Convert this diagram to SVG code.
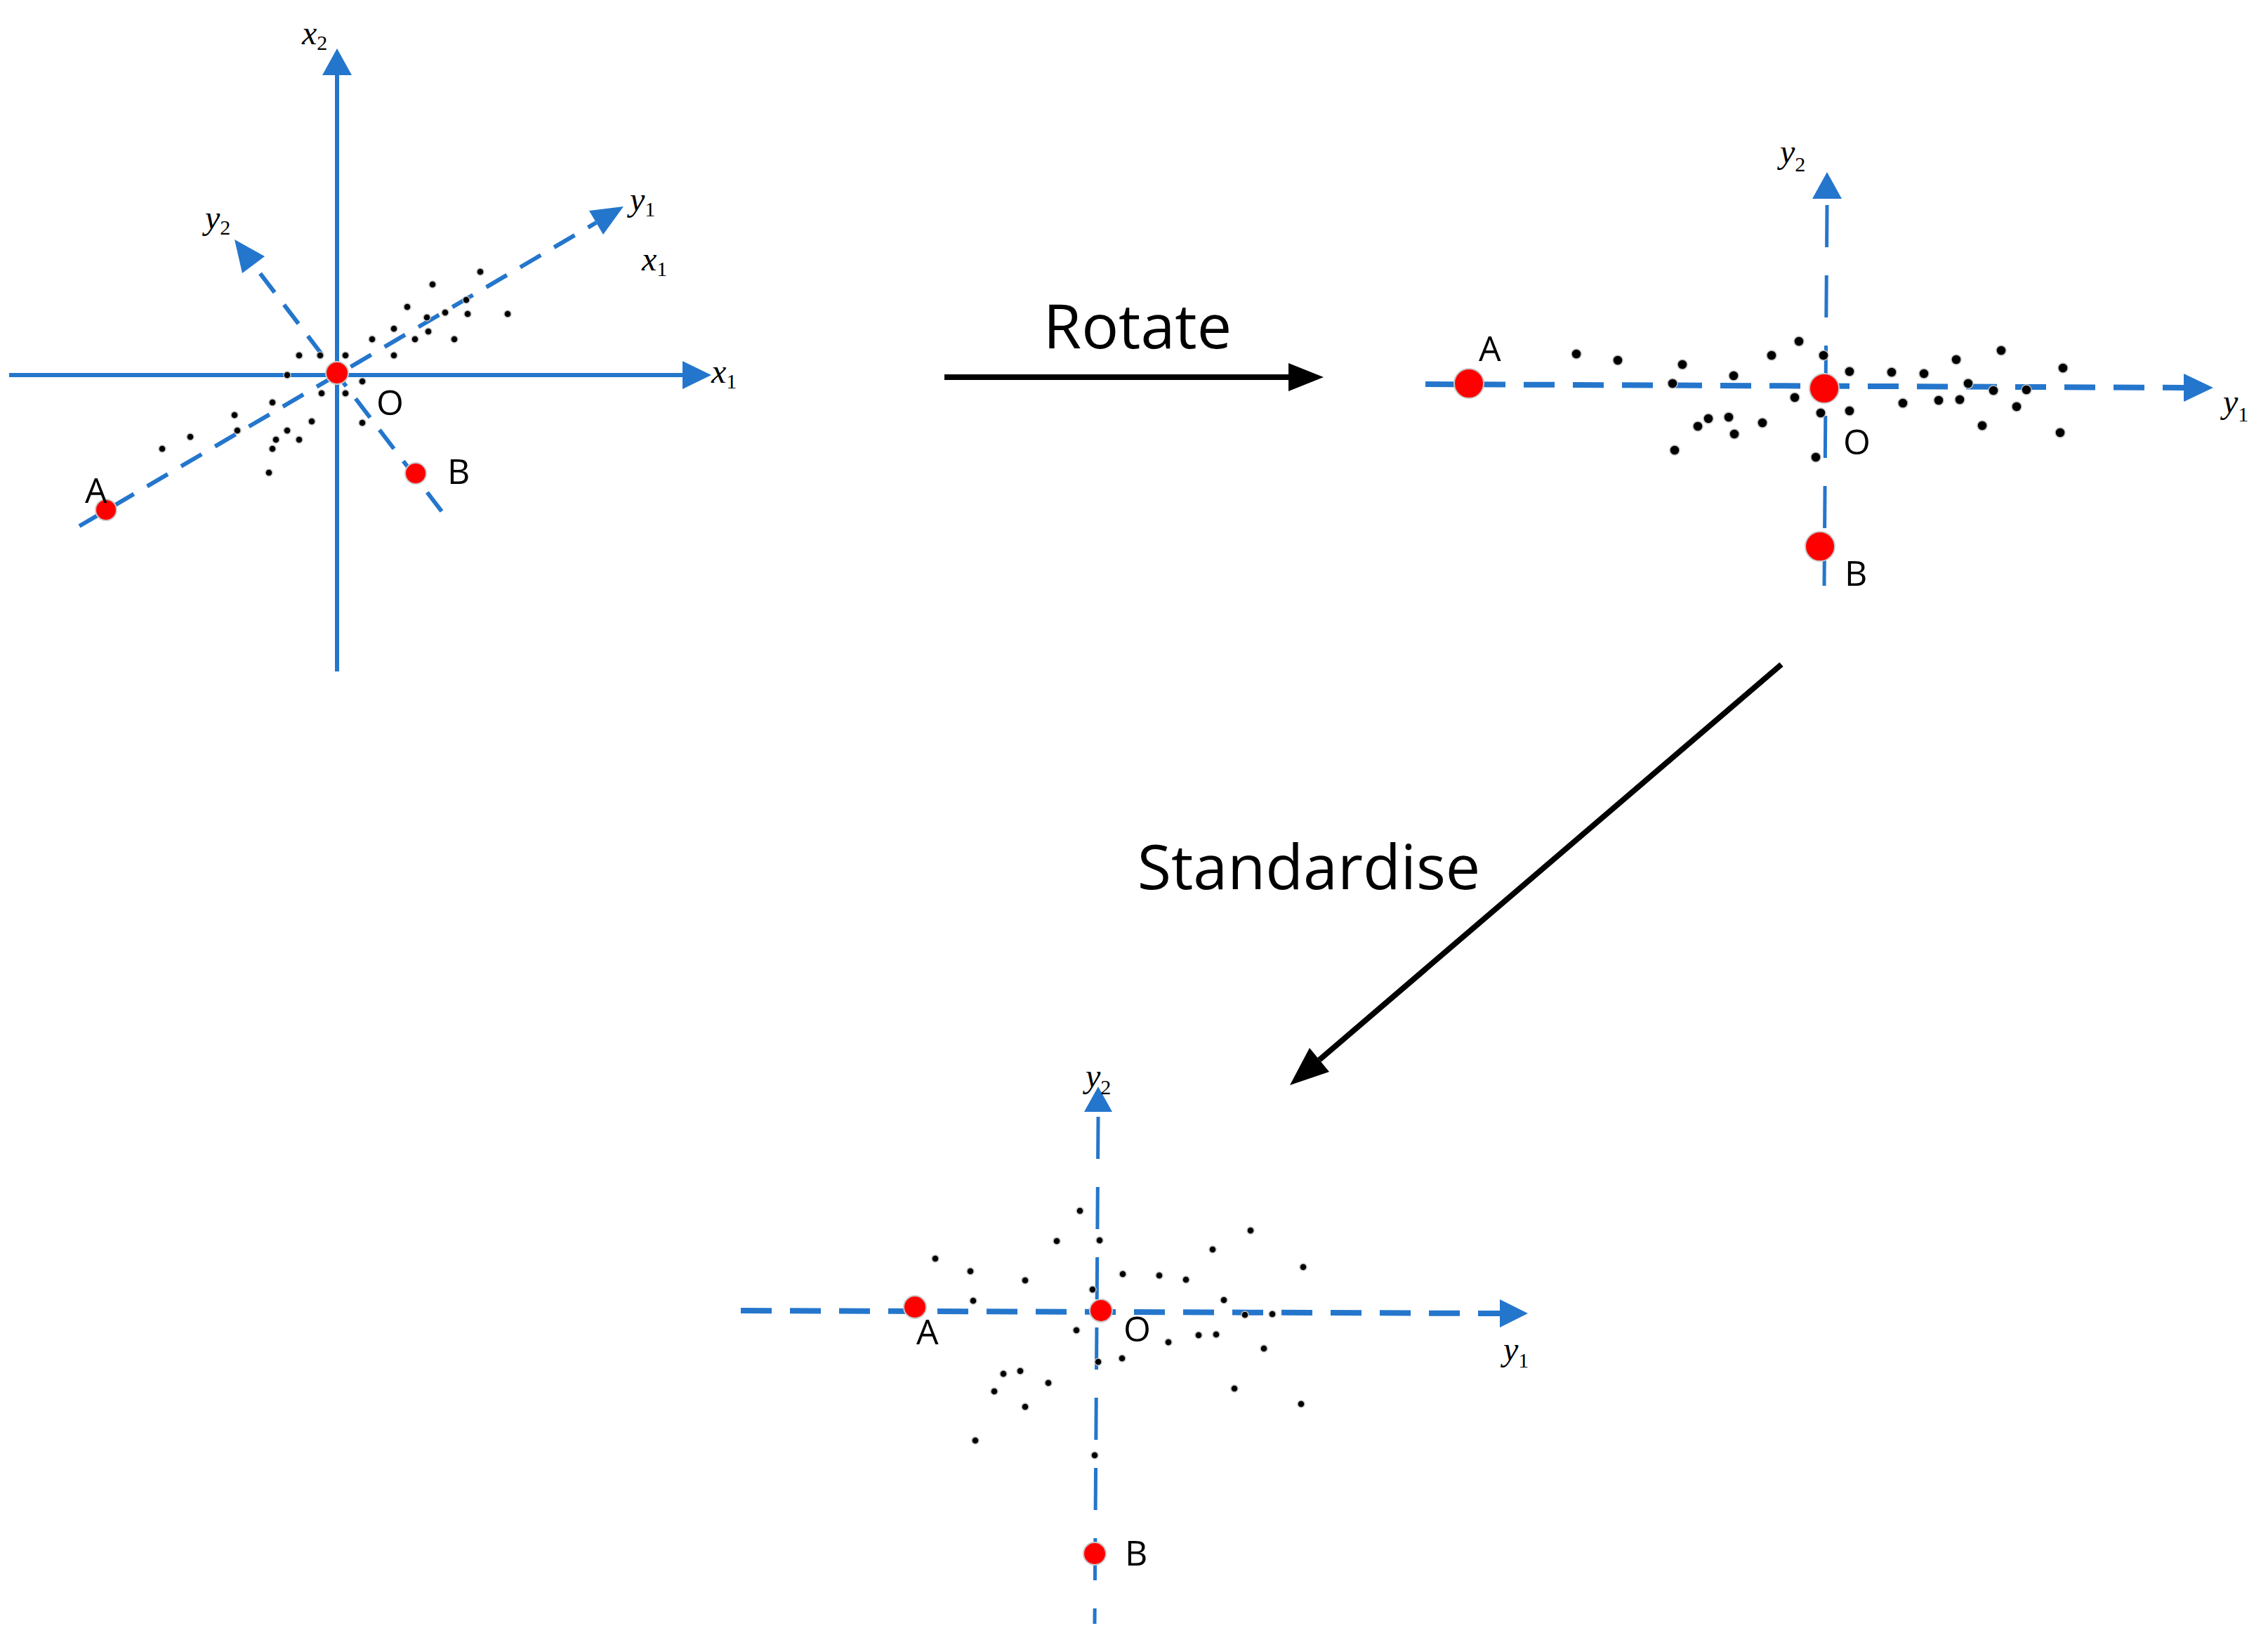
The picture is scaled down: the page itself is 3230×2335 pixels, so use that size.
<svg xmlns="http://www.w3.org/2000/svg" width="3230" height="2335" viewBox="0 0 3230 2335">
<style>
.ax{stroke:#2476cc;stroke-width:6;fill:none}
.dsh{stroke:#2476cc;stroke-width:6;fill:none;stroke-dasharray:34 22}
.dsh2{stroke:#2476cc;stroke-width:8;fill:none;stroke-dasharray:44 26}
.dshv{stroke:#2476cc;stroke-width:5;fill:none;stroke-dasharray:60 40}
.hd{fill:#2476cc}
.bk{stroke:#000;stroke-width:8;fill:none}
.bh{fill:#000}
.red{fill:#ff0000;stroke:#c8c8c8;stroke-width:2}
.dot{fill:#000;stroke:#c0c0c0;stroke-width:1.5}
.lbl{font-family:"Open Sans","Liberation Sans",sans-serif;font-size:50px;fill:#000}
.var{font-family:"Liberation Serif",serif;font-style:italic;font-size:48px;fill:#000}
.sub{font-style:normal;font-size:30px}
.big{font-family:"Open Sans","Liberation Sans",sans-serif;font-size:88px;fill:#000}
</style>
<rect width="3230" height="2335" fill="#fff"/>
<g id="connectors">
<line class="bk" x1="1345" y1="537" x2="1840" y2="537"/>
<polygon class="bh" points="1885,537 1835,517 1835,557"/>
<line class="bk" x1="2537" y1="946" x2="1879" y2="1509"/>
<polygon class="bh" points="1837,1545 1893,1526 1865,1492"/>
</g>
<g id="panel1">
<line class="ax" x1="480" y1="956" x2="480" y2="100"/>
<polygon class="hd" points="480,69 459,107 501,107"/>
<line class="ax" x1="13" y1="534" x2="980" y2="534"/>
<polygon class="hd" points="1013,534 972,514 972,554"/>
<line class="dsh" x1="113" y1="749" x2="849" y2="317"/>
<polygon class="hd" points="888,294 859,334 839,300"/>
<line class="dsh" x1="629" y1="728" x2="361" y2="377"/>
<polygon class="hd" points="334,341 377,365 345,389"/>
<g>
<circle class="dot" cx="684" cy="387" r="5"/><circle class="dot" cx="616" cy="405" r="5"/><circle class="dot" cx="580" cy="437" r="5"/><circle class="dot" cx="664" cy="427" r="5"/><circle class="dot" cx="608" cy="452" r="5"/><circle class="dot" cx="634" cy="445" r="5"/><circle class="dot" cx="666" cy="447" r="5"/><circle class="dot" cx="723" cy="447" r="5"/><circle class="dot" cx="561" cy="468" r="5"/><circle class="dot" cx="530" cy="483" r="5"/><circle class="dot" cx="591" cy="483" r="5"/><circle class="dot" cx="610" cy="472" r="5"/><circle class="dot" cx="647" cy="483" r="5"/><circle class="dot" cx="561" cy="506" r="5"/><circle class="dot" cx="426" cy="506" r="5"/><circle class="dot" cx="456" cy="506" r="5"/><circle class="dot" cx="492" cy="506" r="5"/><circle class="dot" cx="409" cy="534" r="5"/><circle class="dot" cx="516" cy="543" r="5"/><circle class="dot" cx="458" cy="560" r="5"/><circle class="dot" cx="492" cy="560" r="5"/><circle class="dot" cx="388" cy="573" r="5"/><circle class="dot" cx="334" cy="591" r="5"/><circle class="dot" cx="338" cy="613" r="5"/><circle class="dot" cx="271" cy="622" r="5"/><circle class="dot" cx="231" cy="639" r="5"/><circle class="dot" cx="444" cy="600" r="5"/><circle class="dot" cx="409" cy="613" r="5"/><circle class="dot" cx="393" cy="626" r="5"/><circle class="dot" cx="426" cy="626" r="5"/><circle class="dot" cx="388" cy="639" r="5"/><circle class="dot" cx="516" cy="602" r="5"/><circle class="dot" cx="383" cy="673" r="5"/>
</g>
<circle class="red" cx="480" cy="531" r="16"/>
<circle class="red" cx="151" cy="726" r="15"/>
<circle class="red" cx="592" cy="674" r="15"/>
<text class="lbl" x="121" y="716">A</text>
<text class="lbl" x="637" y="689">B</text>
<text class="lbl" x="536" y="591">O</text>
<text class="var" x="430" y="63">x<tspan class="sub" dy="8">2</tspan></text>
<text class="var" x="897" y="300">y<tspan class="sub" dy="8">1</tspan></text>
<text class="var" x="292" y="326">y<tspan class="sub" dy="8">2</tspan></text>
<text class="var" x="914" y="385">x<tspan class="sub" dy="8">1</tspan></text>
<text class="var" x="1013" y="545">x<tspan class="sub" dy="8">1</tspan></text>
</g>
<g id="label-rotate"><text class="big" x="1620" y="496" text-anchor="middle">Rotate</text></g>
<g id="label-standardise"><text class="big" x="1864" y="1266" text-anchor="middle">Standardise</text></g>
<g id="panel2">
<line class="dsh2" x1="2030" y1="547" x2="3110" y2="552"/>
<polygon class="hd" points="3152,552 3110,532 3110,572"/>
<line class="dshv" x1="2602" y1="292" x2="2598" y2="834"/>
<polygon class="hd" points="2602,245 2581,283 2623,283"/>
<g>
<circle class="dot" cx="2245" cy="504" r="7"/><circle class="dot" cx="2304" cy="513" r="7"/><circle class="dot" cx="2396" cy="519" r="7"/><circle class="dot" cx="2382" cy="546" r="7"/><circle class="dot" cx="2469" cy="535" r="7"/><circle class="dot" cx="2523" cy="506" r="7"/><circle class="dot" cx="2562" cy="486" r="7"/><circle class="dot" cx="2597" cy="506" r="7"/><circle class="dot" cx="2634" cy="529" r="7"/><circle class="dot" cx="2694" cy="530" r="7"/><circle class="dot" cx="2740" cy="532" r="7"/><circle class="dot" cx="2786" cy="512" r="7"/><circle class="dot" cx="2850" cy="499" r="7"/><circle class="dot" cx="2938" cy="524" r="7"/><circle class="dot" cx="2803" cy="546" r="7"/><circle class="dot" cx="2839" cy="556" r="7"/><circle class="dot" cx="2886" cy="555" r="7"/><circle class="dot" cx="2872" cy="579" r="7"/><circle class="dot" cx="2791" cy="569" r="7"/><circle class="dot" cx="2761" cy="570" r="7"/><circle class="dot" cx="2710" cy="574" r="7"/><circle class="dot" cx="2634" cy="585" r="7"/><circle class="dot" cx="2593" cy="588" r="7"/><circle class="dot" cx="2556" cy="566" r="7"/><circle class="dot" cx="2510" cy="602" r="7"/><circle class="dot" cx="2470" cy="618" r="7"/><circle class="dot" cx="2462" cy="594" r="7"/><circle class="dot" cx="2433" cy="596" r="7"/><circle class="dot" cx="2418" cy="607" r="7"/><circle class="dot" cx="2385" cy="641" r="7"/><circle class="dot" cx="2586" cy="651" r="7"/><circle class="dot" cx="2823" cy="606" r="7"/><circle class="dot" cx="2934" cy="616" r="7"/>
</g>
<circle class="red" cx="2598" cy="553" r="21"/>
<circle class="red" cx="2092" cy="546" r="21"/>
<circle class="red" cx="2592" cy="778" r="21"/>
<text class="lbl" x="2106" y="514">A</text>
<text class="lbl" x="2625" y="647">O</text>
<text class="lbl" x="2627" y="834">B</text>
<text class="var" x="2535" y="232" font-size="66">y<tspan class="sub" dy="12" font-size="40">2</tspan></text>
<text class="var" x="3166" y="588" font-size="66">y<tspan class="sub" dy="12" font-size="40">1</tspan></text>
</g>
<g id="panel3">
<line class="dsh2" x1="1055" y1="1866" x2="2136" y2="1870"/>
<polygon class="hd" points="2176,1870 2136,1850 2136,1890"/>
<line class="dshv" x1="1564" y1="1590" x2="1559" y2="2312"/>
<polygon class="hd" points="1564,1547 1544,1583 1584,1583"/>
<g>
<circle class="dot" cx="1538" cy="1724" r="5"/><circle class="dot" cx="1505" cy="1767" r="5"/><circle class="dot" cx="1566" cy="1766" r="5"/><circle class="dot" cx="1332" cy="1792" r="5"/><circle class="dot" cx="1382" cy="1810" r="5"/><circle class="dot" cx="1460" cy="1823" r="5"/><circle class="dot" cx="1599" cy="1814" r="5"/><circle class="dot" cx="1651" cy="1816" r="5"/><circle class="dot" cx="1689" cy="1822" r="5"/><circle class="dot" cx="1727" cy="1779" r="5"/><circle class="dot" cx="1781" cy="1752" r="5"/><circle class="dot" cx="1856" cy="1804" r="5"/><circle class="dot" cx="1556" cy="1836" r="5"/><circle class="dot" cx="1386" cy="1852" r="5"/><circle class="dot" cx="1743" cy="1851" r="5"/><circle class="dot" cx="1773" cy="1872" r="5"/><circle class="dot" cx="1812" cy="1871" r="5"/><circle class="dot" cx="1533" cy="1894" r="5"/><circle class="dot" cx="1664" cy="1911" r="5"/><circle class="dot" cx="1707" cy="1901" r="5"/><circle class="dot" cx="1732" cy="1900" r="5"/><circle class="dot" cx="1800" cy="1920" r="5"/><circle class="dot" cx="1598" cy="1934" r="5"/><circle class="dot" cx="1564" cy="1939" r="5"/><circle class="dot" cx="1453" cy="1952" r="5"/><circle class="dot" cx="1429" cy="1956" r="5"/><circle class="dot" cx="1493" cy="1969" r="5"/><circle class="dot" cx="1416" cy="1981" r="5"/><circle class="dot" cx="1460" cy="2003" r="5"/><circle class="dot" cx="1758" cy="1977" r="5"/><circle class="dot" cx="1853" cy="1999" r="5"/><circle class="dot" cx="1389" cy="2051" r="5"/><circle class="dot" cx="1559" cy="2072" r="5"/>
</g>
<circle class="red" cx="1568" cy="1866" r="16"/>
<circle class="red" cx="1303" cy="1861" r="16"/>
<circle class="red" cx="1559" cy="2212" r="16"/>
<text class="lbl" x="1305" y="1914">A</text>
<text class="lbl" x="1600" y="1910">O</text>
<text class="lbl" x="1602" y="2229">B</text>
<text class="var" x="1546" y="1548" font-size="58">y<tspan class="sub" dy="10" font-size="36">2</tspan></text>
<text class="var" x="2141" y="1937" font-size="58">y<tspan class="sub" dy="10" font-size="36">1</tspan></text>
</g>
</svg>
